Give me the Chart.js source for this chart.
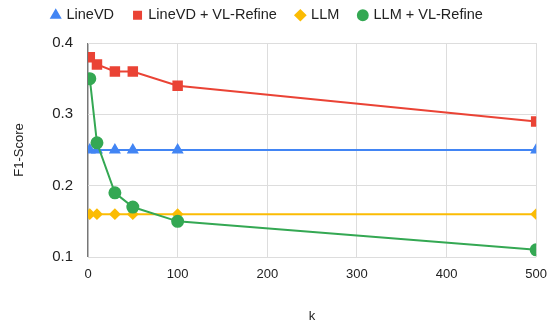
<!DOCTYPE html>
<html>
<head>
<meta charset="utf-8">
<script src="https://cdn.jsdelivr.net/npm/chart.js@4"></script>
<style>
  html, body { margin: 0; padding: 0; background: #fff; }
  #wrap { width: 547px; height: 325px; }
</style>
</head>
<body>
<div id="wrap"><canvas id="graph"></canvas></div>
<script>
// k values and F1 scores
const kValues = [2, 10, 30, 50, 100, 500];
const lineVD = [0.25, 0.25, 0.25, 0.25, 0.25, 0.25];
const lineVDRefine = [0.38, 0.37, 0.36, 0.36, 0.34, 0.29];
const llm = [0.16, 0.16, 0.16, 0.16, 0.16, 0.16];
const llmRefine = [0.35, 0.26, 0.19, 0.17, 0.15, 0.11];

const xTicks = [0, 100, 200, 300, 400, 500];
const yTicks = [0.1, 0.2, 0.3, 0.4];

const toPoints = (vals) => vals.map((v, i) => ({ x: kValues[i], y: v }));

const font = { family: 'Arial, "Liberation Sans", sans-serif', size: 13 };

// fix legend height so the plot starts where the reference's does,
// and nudge the legend a bit left like the original
const legendTweak = {
  id: 'legendTweak',
  beforeInit(chart) {
    const fit = chart.legend.fit;
    chart.legend.fit = function () {
      fit.call(this);
      this.height = 55;
    };
  },
  afterLayout(chart) {
    chart.legend.left -= 6;
    chart.legend.right -= 6;
  },
};

const ctx = document.getElementById('graph').getContext('2d');
const chart = new Chart(ctx, {
  type: 'line',
  data: {
    datasets: [
      { label: 'LineVD', data: toPoints(lineVD), borderColor: '#4285F4', backgroundColor: '#4285F4',
        pointStyle: 'triangle', pointRadius: 5, borderWidth: 2, order: 3 },
      { label: 'LineVD + VL-Refine', data: toPoints(lineVDRefine), borderColor: '#EA4335', backgroundColor: '#EA4335',
        pointStyle: 'rect', pointRadius: 6, borderWidth: 2, order: 2 },
      { label: 'LLM', data: toPoints(llm), borderColor: '#FBBC04', backgroundColor: '#FBBC04',
        pointStyle: 'rectRot', pointRadius: 4.5, borderWidth: 2, order: 1 },
      { label: 'LLM + VL-Refine', data: toPoints(llmRefine), borderColor: '#34A853', backgroundColor: '#34A853',
        pointStyle: 'circle', pointRadius: 5.5, borderWidth: 2, order: 0 },
    ],
  },
  options: {
    responsive: true,
    maintainAspectRatio: false,
    animation: false,
    layout: { padding: { top: -12, right: 0, bottom: 0, left: 0 } },
    plugins: {
      legend: {
        position: 'top',
        labels: {
          usePointStyle: true,
          boxWidth: 7,
          boxHeight: 7,
          padding: 20,
          color: '#222',
          font: { family: font.family, size: 14.5 },
          sort: (a, b) => a.datasetIndex - b.datasetIndex,
        },
      },
      tooltip: { enabled: false },
    },
    scales: {
      x: {
        type: 'linear',
        min: 0,
        max: 500,
        afterBuildTicks: (s) => { s.ticks = xTicks.map(v => ({ value: v })); },
        ticks: { color: '#222', font: font, padding: 0 },
        grid: {
          drawTicks: true,
          tickLength: 10,
          tickColor: 'transparent',
          color: (c) => (c.tick && c.tick.value === 0) ? '#777' : '#ddd',
          lineWidth: (c) => (c.tick && c.tick.value === 0) ? 1.5 : 1,
        },
        border: { display: false },
        title: { display: true, text: 'k', color: '#222', font: font, padding: { top: 25, bottom: 1 } },
        afterFit: (s) => { s.height = 68; },
      },
      y: {
        min: 0.1,
        max: 0.4,
        afterBuildTicks: (s) => { s.ticks = yTicks.map(v => ({ value: v })); },
        ticks: { color: '#222', font: { family: font.family, size: 15 }, padding: 15,
          callback: (v) => v.toFixed(1) },
        grid: { drawTicks: false, color: '#ddd' },
        border: { display: false },
        title: { display: true, text: 'F1-Score', color: '#222', font: font, padding: { top: 12, bottom: 0 } },
        afterFit: (s) => { s.width = 88; },
      },
    },
  },
  plugins: [legendTweak],
});
</script>
</body>
</html>
